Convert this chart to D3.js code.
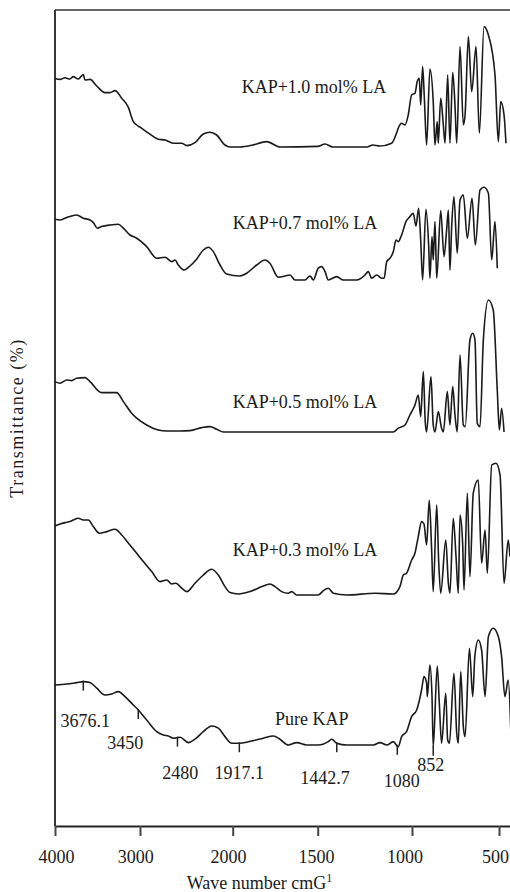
<!DOCTYPE html>
<html>
<head>
<meta charset="utf-8">
<script src="https://cdn.jsdelivr.net/npm/d3@7"></script>
<style>
    body { margin: 0; background: white; }
    text { font-family: "Liberation Serif", "DejaVu Serif", serif; fill: #1a1a1a; }
</style>
</head>
<body>
<div id="chart"></div>
<script>
// wave number ticks (cm^-1)
const waveTicks = [4000, 3000, 2000, 1500, 1000, 500];

const seriesNames = ["KAP+1.0 mol% LA", "KAP+0.7 mol% LA", "KAP+0.5 mol% LA", "KAP+0.3 mol% LA", "Pure KAP"];
// vertical stacking offset of each spectrum (transmittance, a.u.)
const offsets = [339.5, 273, 197, 115.5, 40.5];

// [wave number, transmittance above trace baseline]
const kap10 = [
    [4000, 34.3], [3941, 33.8], [3882, 34.6], [3824, 34], [3785, 35.2], [3726, 34], [3667, 36.2], [3647, 33.5],
    [3588, 33.8], [3509, 30.5], [3412, 27.2], [3353, 27.2], [3294, 28.2], [3215, 24.4], [3138, 19.9], [3079, 12.7],
    [3039, 11], [3000, 9.9], [2892, 6.4], [2803, 3.9], [2730, 3.5], [2641, 1.9], [2550, 1.9], [2496, 0.7],
    [2407, 2.2], [2317, 6.5], [2245, 7.4], [2173, 6], [2083, 1], [2029, 0], [1957, 0], [1881, 1], [1800, 2.7],
    [1722, 0], [1500, 0.3], [1461, 1.5], [1420, 0], [1240, 0], [1207, 1], [1171, 0.5], [1108, 1.9], [1082, 6.9],
    [1073, 9.4], [1055, 11.9], [1037, 11], [1020, 16], [1002, 26], [983, 26.9], [970, 32.7], [958, 34.4],
    [950, 21], [939, 40.2], [929, 24.4], [916, 1], [897, 39], [878, 22.7], [868, 1], [855, 12.7], [849, 1.9],
    [835, 24.4], [820, 11], [810, 1.9], [795, 36], [782, 1.9], [766, 37.4], [753, 21], [743, 1.9], [724, 50.2],
    [705, 11], [695, 16], [676, 55.2], [657, 27.7], [632, 50.2], [613, 6.9], [586, 60.2], [561, 56], [523, 36],
    [504, 2.7], [490, 22.7], [471, 16], [460, 1.9]
];

const kap07 = [
    [4000, 30.4], [3941, 30], [3882, 30.9], [3824, 31.7], [3745, 32.5], [3667, 30.9], [3588, 30], [3549, 28.7],
    [3502, 25.9], [3451, 26.7], [3353, 27.5], [3255, 27.9], [3196, 25.9], [3118, 22.5], [3039, 20.9], [2928, 16.7],
    [2820, 10.9], [2730, 11.4], [2658, 9.2], [2622, 10], [2587, 7.5], [2525, 5], [2461, 7], [2390, 10.4],
    [2317, 15], [2263, 16.4], [2209, 14.2], [2137, 7.5], [2065, 3], [1957, 2], [1918, 3.4], [1859, 7.5],
    [1810, 10], [1781, 8.4], [1732, 1.4], [1692, 2], [1663, 2.5], [1634, 0], [1575, 0], [1545, 2], [1526, 0],
    [1497, 5.9], [1479, 6.7], [1461, 4.2], [1444, 0], [1399, 1.7], [1364, 0], [1293, 0], [1249, 2.5], [1232, 4.2],
    [1214, 0.9], [1187, 2.5], [1161, 0.9], [1148, 0.9], [1134, 9.2], [1117, 10.9], [1099, 14.2], [1085, 20],
    [1073, 19.2], [1055, 22.5], [1032, 29.2], [1011, 31.7], [993, 33.4], [977, 27], [962, 35.9], [950, 20],
    [939, 0], [920, 35.4], [904, 16.7], [897, 0.9], [885, 21.7], [878, 10], [868, 29.2], [858, 0.9], [835, 34.7],
    [816, 11.7], [801, 25], [791, 35], [782, 5], [772, 26.7], [759, 41.7], [740, 13.4], [724, 40], [705, 42.5],
    [682, 20.9], [655, 40.9], [636, 17.5], [609, 45], [586, 46.4], [561, 43.4], [542, 10], [523, 29.2], [510, 5.9]
];

const kap05 = [
    [4000, 25.2], [3941, 24.4], [3862, 26], [3804, 25.7], [3745, 26.9], [3647, 27.2], [3588, 25.2], [3451, 19.7],
    [3373, 19.7], [3275, 19.7], [3196, 15.2], [3098, 9.4], [3039, 6.9], [2928, 3.5], [2803, 1], [2712, 0.5],
    [2568, 0.5], [2461, 0.7], [2334, 2.2], [2245, 2.7], [2173, 1.4], [2101, 0], [1099, 0], [1073, 1.9],
    [1037, 3.5], [1011, 8.5], [983, 13.5], [964, 18.5], [950, 7.7], [935, 30.2], [924, 5.2], [916, 0],
    [891, 27.7], [878, 3.5], [868, 0], [849, 10.2], [830, 1.9], [820, 0], [797, 20.2], [782, 3.5], [766, 22.7],
    [753, 8.5], [740, 0], [724, 38.5], [705, 3.5], [694, 2.7], [667, 46], [651, 49.4], [638, 46], [625, 4.4],
    [609, 2.7], [590, 46], [561, 66], [533, 61], [510, 21], [498, 1], [485, 11.9], [471, 0]
];

const kap03 = [
    [4000, 34.5], [3941, 35.5], [3882, 36.2], [3824, 36.7], [3785, 37.5], [3726, 38.4], [3667, 37.5], [3608, 37.5],
    [3549, 34.2], [3479, 30.9], [3392, 31.7], [3294, 32.9], [3215, 30], [3118, 25], [3039, 20.9], [2964, 16.7],
    [2874, 11.7], [2784, 6.7], [2712, 7.5], [2658, 5.5], [2612, 5.9], [2550, 3.4], [2496, 1.7], [2407, 5.9],
    [2317, 10], [2227, 12.9], [2155, 10], [2083, 4.2], [2029, 1.2], [1967, 0.5], [1898, 1.7], [1829, 4.2],
    [1781, 5.5], [1751, 4.2], [1712, 1.7], [1673, 0.9], [1653, 1.7], [1624, 0], [1497, 0], [1470, 2.2],
    [1444, 3.4], [1417, 0.9], [1346, 0], [1196, 0.9], [1099, 0.5], [1064, 4.2], [1046, 10], [1029, 10.9],
    [1002, 17.5], [983, 20.9], [964, 29.2], [945, 36.7], [931, 35.5], [916, 25], [901, 47.5], [887, 22.5],
    [878, 1.7], [858, 45], [847, 17.5], [835, 0.9], [806, 27.5], [791, 5.9], [782, 0.9], [763, 38.4],
    [747, 19.2], [734, 0.9], [724, 40], [709, 25.9], [701, 2.5], [682, 50.9], [667, 9.2], [648, 50.9],
    [619, 57.5], [600, 15.9], [580, 32.5], [567, 10.9], [542, 65], [517, 65.9], [494, 60], [471, 5.9],
    [447, 27.5], [437, 19.2]
];

const kapPure = [
    [4000, 30], [3862, 30.5], [3745, 31.2], [3667, 31.7], [3588, 31.2], [3509, 28.4], [3412, 25], [3333, 25.5],
    [3255, 26.7], [3176, 24.2], [3079, 20], [3020, 17.5], [2928, 12.5], [2820, 6.7], [2748, 5], [2694, 4.5],
    [2641, 3.4], [2568, 3.9], [2479, 1.2], [2407, 2.9], [2317, 6.7], [2227, 9.5], [2155, 8.4], [2083, 4.2],
    [2011, 0.9], [1957, 0.9], [1879, 2.2], [1820, 3.4], [1761, 4.5], [1722, 2.9], [1673, 0], [1624, 1.2],
    [1565, 0], [1497, 0], [1444, 1.7], [1426, 2.9], [1399, 0.9], [1346, 0], [1204, 0], [1170, 1.2], [1134, 0],
    [1099, 1.7], [1073, -0.9], [1055, 4.2], [1029, 6.7], [1002, 14.2], [973, 17.5], [945, 27.5], [931, 34.2],
    [916, 30.9], [912, 24.2], [897, 40], [885, 24.2], [878, -0.9], [855, 39.5], [843, 20.9], [830, 0.9],
    [806, 25.9], [795, 2.5], [785, 0.9], [759, 35.9], [743, 5.9], [734, 0.9], [720, 36.7], [705, 9.2],
    [695, 4.2], [670, 48.4], [651, 24.2], [639, 44.2], [619, 52.5], [600, 47.5], [580, 24.2], [561, 54.2],
    [533, 58.4], [504, 54.2], [485, 44.2], [466, 24.2], [447, 32.5], [431, 4.2]
];

const spectra = [kap10, kap07, kap05, kap03, kapPure];

// marked bands on the pure KAP spectrum
const peakWaves = [3667, 3020, 2596, 1961, 1399, 1078, 878];
const peakLabels = ["3676.1", "3450", "2480", "1917.1", "1442.7", "1080", "852"];

function renderSpectra () {
    const wSvg = 510;
    const hSvg = 892;
    const left = 55;
    const top = 10;
    const bottom = 826;

    // layout of the text annotations
    const nameXY = [[241.7, 93], [232.7, 229], [232.7, 408], [232.7, 556], [275, 725]];
    const peakLabelDx = [2, -13, 2.7, 0, -11.7, 4.4, -2.5];
    const peakLabelY = [727, 749, 779, 779, 784, 787, 771];
    const tickLabelDx = [1, -4.7, -4.7, -1.7, -7.5, -4];

    // the wave number axis is drawn with a changing step, so a piecewise scale
    let xScale = d3.scaleLinear()
        .domain([4000, 3000, 2000, 1500, 1000, 500, 400])
        .range([left, 140, 232.7, 317.7, 412, 499, 516.4]);

    let yScale = d3.scaleLinear()
        .domain([0, 408])
        .range([bottom, top]);

    let svg = d3.select("#chart")
        .append("svg")
        .attr("width", wSvg)
        .attr("height", hSvg)
        .style("background-color", "white");

    // frame: top and left lines
    svg.append("line")
        .attr("x1", left).attr("x2", wSvg)
        .attr("y1", top).attr("y2", top)
        .attr("stroke", "#333").attr("stroke-width", 1.5);
    svg.append("line")
        .attr("x1", left).attr("x2", left)
        .attr("y1", top).attr("y2", bottom)
        .attr("stroke", "#222").attr("stroke-width", 1.8);

    let xAxis = d3.axisBottom(xScale)
        .tickValues(waveTicks)
        .tickFormat(d3.format("d"))
        .tickSize(10)
        .tickSizeOuter(0)
        .tickPadding(14);

    let gx = svg.append("g")
        .attr("transform", `translate(0, ${bottom})`)
        .call(xAxis);
    gx.select(".domain").attr("stroke", "#222").attr("stroke-width", 1.8);
    gx.selectAll(".tick line").attr("stroke", "#444").attr("stroke-width", 2);
    gx.selectAll(".tick text")
        .attr("font-size", 18)
        .attr("font-family", "Liberation Serif")
        .attr("fill", "#1a1a1a")
        .attr("dx", (d, i) => tickLabelDx[i]);

    let line = d3.line()
        .x(d => xScale(d[0]))
        .y(d => yScale(d[1]))
        .curve(d3.curveMonotoneX);

    spectra.forEach((data, i) => {
        let shifted = data.map(d => [d[0], d[1] + offsets[i]]);
        svg.append("path")
            .datum(shifted)
            .attr("fill", "none")
            .attr("stroke", "#1a1a1a")
            .attr("stroke-width", 1.6)
            .attr("stroke-linejoin", "round")
            .attr("d", line);

        svg.append("text")
            .attr("x", nameXY[i][0])
            .attr("y", nameXY[i][1])
            .attr("font-size", 18)
            .text(seriesNames[i]);
    });

    // value of the pure spectrum at a wave number (linear between points)
    function pureAt (w) {
        for (let j = 0; j < kapPure.length - 1; j++) {
            let a = kapPure[j], b = kapPure[j + 1];
            if (w <= a[0] && w >= b[0]) {
                let t = (a[0] - w) / (a[0] - b[0]);
                return a[1] + t * (b[1] - a[1]);
            }
        }
        return 0;
    }

    let pureOffset = offsets[offsets.length - 1];
    peakWaves.forEach((w, i) => {
        let px = xScale(w);
        let py = yScale(pureAt(w) + pureOffset);
        svg.append("line")
            .attr("x1", px).attr("x2", px)
            .attr("y1", py - 1).attr("y2", py + 9)
            .attr("stroke", "#222").attr("stroke-width", 1.5);
        svg.append("text")
            .attr("x", px + peakLabelDx[i])
            .attr("y", peakLabelY[i])
            .attr("text-anchor", "middle")
            .attr("font-size", 18)
            .text(peakLabels[i]);
    });

    // axis titles
    svg.append("text")
        .attr("transform", "translate(23, 418) rotate(-90)")
        .attr("text-anchor", "middle")
        .attr("font-size", 18)
        .attr("letter-spacing", 1.5)
        .text("Transmittance (%)");

    let xTitle = svg.append("text")
        .attr("x", 186.7)
        .attr("y", 889)
        .attr("font-size", 18);
    xTitle.append("tspan").text("Wave number cmG");
    xTitle.append("tspan").attr("dy", -7).attr("font-size", 12).text("1");
}

renderSpectra();
</script>
</body>
</html>
